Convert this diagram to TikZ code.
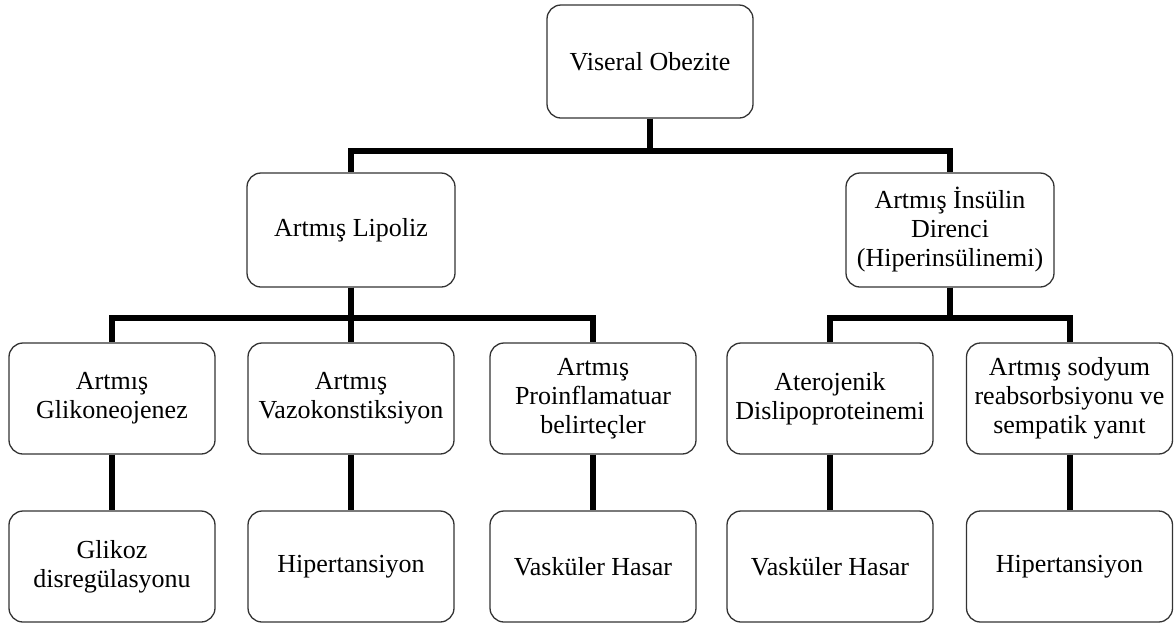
\documentclass[tikz,border=0pt]{standalone}
\usepackage{fontspec}
\setmainfont{Liberation Serif}
\begin{document}
\begin{tikzpicture}[x=0.5pt, y=-0.5pt,
        box/.style={rectangle, rounded corners=7pt, draw=black!80, line width=0.65pt,
            minimum width=103pt, minimum height=55.5pt, align=center, inner sep=2pt,
            font=\fontsize{13pt}{14.5pt}\selectfont},
        link/.style={line width=3pt}]

        \useasboundingbox (0, 0) rectangle (1176, 623);

        % Nodes
        \node (viseral) [box, minimum height=56.5pt] at (650, 61.5) {Viseral Obezite};
        \node (lipoliz) [box, minimum width=104pt, minimum height=57pt] at (351, 230) {Artmış Lipoliz};
        \node (insulin) [box, minimum width=104pt, minimum height=57pt] at (950, 230) {Artmış İnsülin\\Direnci\\(Hiperinsülinemi)};

        \node (glikoneo) [box] at (112, 398.5) {Artmış\\Glikoneojenez};
        \node (vazo) [box] at (351, 398.5) {Artmış\\Vazokonstiksiyon};
        \node (proinf) [box] at (593, 398.5) {Artmış\\Proinflamatuar\\belirteçler};
        \node (atero) [box] at (830, 398.5) {Aterojenik\\Dislipoproteinemi};
        \node (sodyum) [box] at (1069.5, 398.5) {Artmış sodyum\\reabsorbsiyonu ve\\sempatik yanıt};

        \node (glikoz) [box] at (112, 566.5) {Glikoz\\disregülasyonu};
        \node (hiper_l) [box] at (351, 566.5) {Hipertansiyon};
        \node (hasar_l) [box] at (593, 566.5) {Vasküler Hasar};
        \node (hasar_r) [box] at (830, 566.5) {Vasküler Hasar};
        \node (hiper_r) [box] at (1069.5, 566.5) {Hipertansiyon};

        % Edges
        \draw[link] (viseral.south) -- ++(0, 32) -| (lipoliz.north);
        \draw[link] (viseral.south) -- ++(0, 32) -| (insulin.north);

        \draw[link] (lipoliz.south) -- ++(0, 30) -| (glikoneo.north);
        \draw[link] (lipoliz.south) -- (vazo.north);
        \draw[link] (lipoliz.south) -- ++(0, 30) -| (proinf.north);

        \draw[link] (insulin.south) -- ++(0, 30) -| (atero.north);
        \draw[link] (insulin.south) -- ++(0, 30) -| (sodyum.north);

        \draw[link] (glikoneo) -- (glikoz);
        \draw[link] (vazo) -- (hiper_l);
        \draw[link] (proinf) -- (hasar_l);
        \draw[link] (atero) -- (hasar_r);
        \draw[link] (sodyum) -- (hiper_r);

    \end{tikzpicture}
\end{document}
